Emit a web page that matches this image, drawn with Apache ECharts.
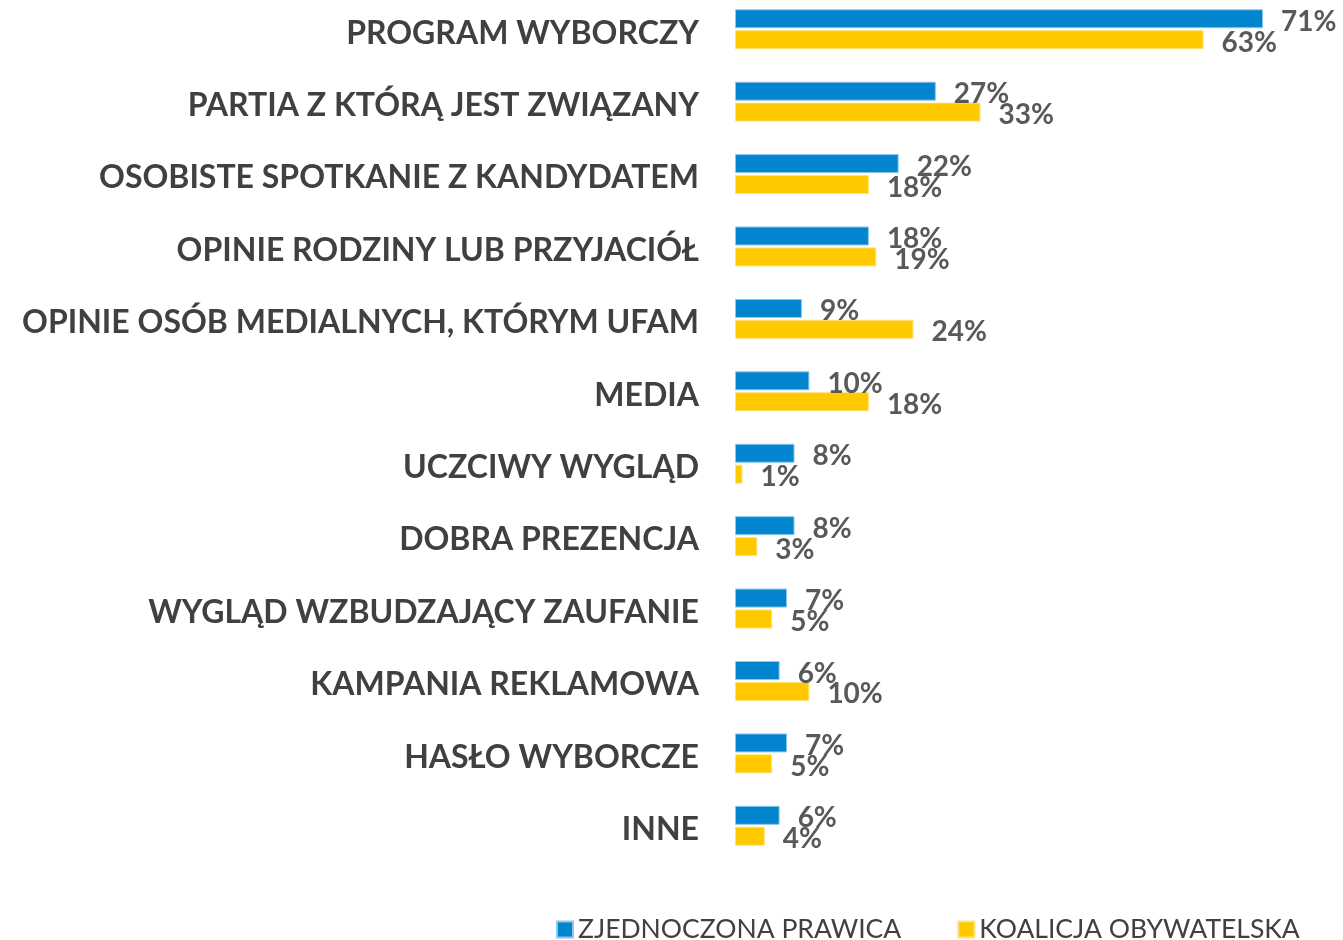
<!DOCTYPE html>
<html>
<head>
<meta charset="utf-8">
<script src="https://cdn.jsdelivr.net/npm/echarts@6/dist/echarts.min.js"></script>
<style>
  html, body { margin: 0; padding: 0; background: #fff; }
  #chart { width: 1343px; height: 940px; }
</style>
</head>
<body>
<div id="chart"></div>
<script>
// kategorie od góry do dołu
var categories = [
  'PROGRAM WYBORCZY',
  'PARTIA Z KTÓRĄ JEST ZWIĄZANY',
  'OSOBISTE SPOTKANIE Z KANDYDATEM',
  'OPINIE RODZINY LUB PRZYJACIÓŁ',
  'OPINIE OSÓB MEDIALNYCH, KTÓRYM UFAM',
  'MEDIA',
  'UCZCIWY WYGLĄD',
  'DOBRA PREZENCJA',
  'WYGLĄD WZBUDZAJĄCY ZAUFANIE',
  'KAMPANIA REKLAMOWA',
  'HASŁO WYBORCZE',
  'INNE'
]
var zpValues = [71, 27, 22, 18, 9, 10, 8, 8, 7, 6, 7, 6]
var koValues = [63, 33, 18, 19, 24, 18, 1, 3, 5, 10, 5, 4]
var seriesNames = ['ZJEDNOCZONA PRAWICA', 'KOALICJA OBYWATELSKA']

var chart = echarts.init(document.getElementById('chart'))

var labelStyle = {
  show: true,
  position: 'right',
  distance: 18,
  offset: [0, 3],
  formatter: '{c}%',
  color: '#595959',
  fontFamily: 'Lato',
  fontWeight: 'bold',
  fontSize: 28
}

var option = {
  animation: false,
  grid: {
    left: 735,
    right: 13,
    top: -7,
    bottom: 78,
    outerBoundsMode: 'none'
  },
  legend: {
    top: 911,
    left: 551,
    itemWidth: 16,
    itemHeight: 16,
    itemGap: 56,
    icon: 'rect',
    textStyle: {
      color: '#404040',
      fontFamily: 'Lato',
      fontSize: 26.5
    },
    data: seriesNames
  },
  xAxis: {
    type: 'value',
    min: 0,
    max: 80,
    show: false
  },
  yAxis: {
    type: 'category',
    inverse: true,
    data: categories,
    axisLine: { show: false },
    axisTick: { show: false },
    axisLabel: {
      margin: 36,
      formatter: '{c|{value}}',
      rich: {
        c: {
          color: '#404040',
          fontFamily: 'Lato',
          fontWeight: 'bold',
          fontSize: 32,
          padding: [8, 0, 0, 0]
        }
      }
    }
  },
  series: [
    {
      name: seriesNames[0],
      type: 'bar',
      data: zpValues,
      barWidth: 19,
      barGap: '10%',
      itemStyle: {
        color: '#0284ce',
        borderColor: '#8cc8ec',
        borderWidth: 1
      },
      label: labelStyle
    },
    {
      name: seriesNames[1],
      type: 'bar',
      data: koValues,
      barWidth: 19,
      itemStyle: {
        color: '#ffc900',
        borderColor: '#ffe17a',
        borderWidth: 1
      },
      label: labelStyle
    }
  ]
}

chart.setOption(option)
</script>
</body>
</html>
